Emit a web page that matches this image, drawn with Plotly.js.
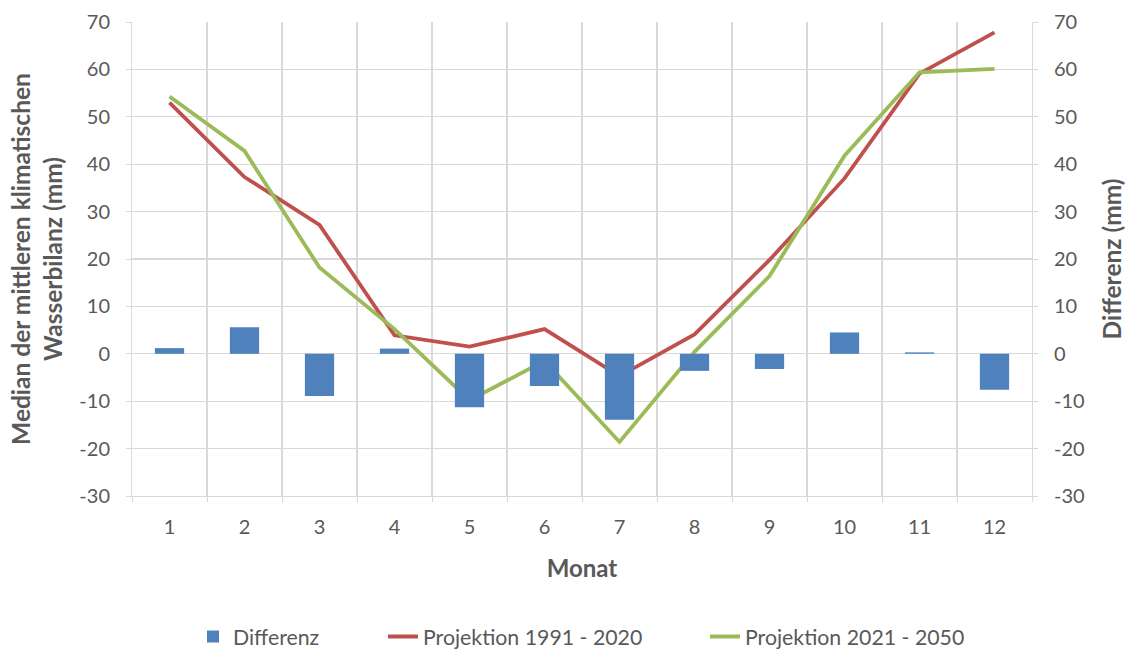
<!DOCTYPE html>
<html>
<head>
<meta charset="utf-8">
<script src="https://cdn.plot.ly/plotly-3.0.1.min.js"></script>
<style>html,body{margin:0;padding:0;background:#fff;}#chart{width:1127px;height:651px;}</style>
</head>
<body>
<div id="chart"></div>
<script>
const months = [1, 2, 3, 4, 5, 6, 7, 8, 9, 10, 11, 12];
const differenz = [1.2, 5.6, -8.9, 1.1, -11.3, -6.8, -13.9, -3.6, -3.2, 4.5, 0.3, -7.6];
const proj1991 = [53.0, 37.3, 27.2, 3.9, 1.5, 5.2, -4.7, 4.1, 19.8, 37.0, 59.1, 67.8];
const proj2021 = [54.3, 42.8, 18.2, 5.2, -9.8, -1.5, -18.6, 0.4, 16.4, 41.8, 59.4, 60.1];
const yTicks = [-30, -20, -10, 0, 10, 20, 30, 40, 50, 60, 70];
const yTickText = ['-30', '-20', '-10', '0', '10', '20', '30', '40', '50', '60', '70'];

const font = 'Lato, "Open Sans", sans-serif';
const grey = '#595959';
const gridc = '#d9d9d9';

const traces = [
  {type: 'bar', x: months, y: differenz, name: 'Differenz', yaxis: 'y2', legend: 'legend',
   marker: {color: '#4f81bd'}, width: 0.39},
  {type: 'scatter', mode: 'lines', x: months, y: proj1991, name: 'Projektion 1991 - 2020',
   legend: 'legend2', line: {color: '#c0504d', width: 3.8}},
  {type: 'scatter', mode: 'lines', x: months, y: proj2021, name: 'Projektion 2021 - 2050',
   legend: 'legend3', line: {color: '#9bbb59', width: 3.8}}
];

function leg(xpx) {
  return {orientation: 'h', x: xpx / 1127, xanchor: 'left', xref: 'container',
          y: 0.022, yanchor: 'middle', yref: 'container', bgcolor: 'rgba(0,0,0,0)',
          font: {size: 21.3, color: grey}, itemwidth: 30};
}

const layout = {
  width: 1127, height: 651,
  margin: {l: 132, r: 95, t: 22, b: 155, autoexpand: false},
  paper_bgcolor: '#fff', plot_bgcolor: '#fff',
  font: {family: font, color: grey, size: 20},
  showlegend: true,
  legend: leg(193),
  legend2: leg(383),
  legend3: leg(705),
  xaxis: {
    range: [0.5, 12.5], tickvals: months, ticktext: months.map(String),
    showgrid: false, zeroline: false, showline: true, linecolor: gridc,
    ticks: '', tickfont: {size: 20, color: grey}, ticklabelstandoff: 13,
    minor: {tick0: 0.5, dtick: 1, showgrid: true, gridcolor: gridc, gridwidth: 1.3,
            ticks: 'outside', ticklen: 5, tickcolor: gridc},
    title: {text: '<b>Monat</b>', font: {size: 24, color: grey}, standoff: 23}
  },
  yaxis: {
    range: [-30, 70], tickvals: yTicks, ticktext: yTickText, showgrid: true, gridcolor: gridc, gridwidth: 1.3,
    zeroline: false, showline: true, linecolor: gridc, ticks: 'outside', ticklen: 5,
    tickcolor: gridc, tickfont: {size: 20, color: grey}, ticklabelstandoff: 12,
    title: {text: '<b>Median der mittleren klimatischen<br>Wasserbilanz (mm)</b>',
            font: {size: 24.5, color: grey}, standoff: 9}
  },
  yaxis2: {
    range: [-30, 70], tickvals: yTicks, ticktext: yTickText, overlaying: 'y', side: 'right',
    showgrid: false, zeroline: false, showline: true, linecolor: gridc,
    ticks: 'outside', ticklen: 5, tickcolor: gridc, tickfont: {size: 20, color: grey},
    ticklabelstandoff: 12,
    title: {text: '<b>Differenz (mm)</b>', font: {size: 24.5, color: grey}, standoff: 20}
  },
  bargap: 0.61
};

Plotly.newPlot('chart', traces, layout, {displayModeBar: false, staticPlot: true});
</script>
</body>
</html>
